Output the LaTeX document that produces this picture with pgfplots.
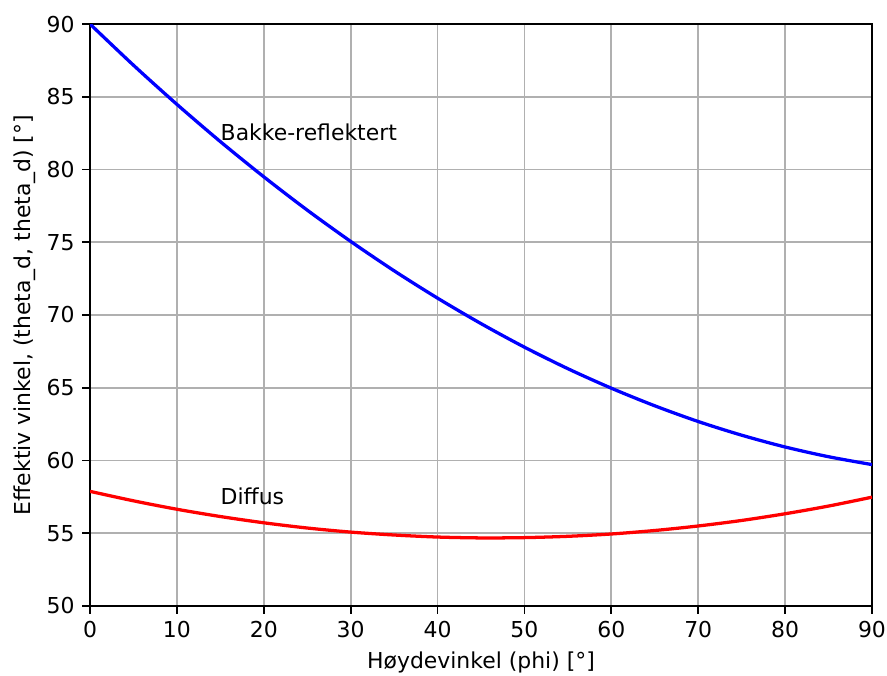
\documentclass[border=0pt]{standalone}
\usepackage{fontspec}
\setmainfont{DejaVu Sans}
\usepackage{pgfplots}
\pgfplotsset{compat=1.18}
\begin{document}
\fontsize{11.4pt}{13.7pt}\selectfont
\begin{tikzpicture}
\begin{axis}[
  name=ax,
  scale only axis,
  width=406.6pt, height=302.6pt,
  xmin=0, xmax=90, ymin=50, ymax=90,
  xtick={0,10,...,90}, ytick={50,55,...,90},
  grid=major,
  major grid style={color=black!31, line width=0.9pt},
  axis line style={line width=0.9pt},
  tick align=outside,
  xtick pos=bottom, ytick pos=left,
  major tick length=4pt,
  tick style={line width=0.9pt, color=black},
  /pgf/number format/assume math mode=true,
  ticklabel style={font=\fontsize{11.4pt}{13.7pt}\selectfont},
  xlabel={Høydevinkel (phi) [°]},
  ylabel={Effektiv vinkel, (theta\_d, theta\_d) [°]},
  label style={font=\fontsize{11.4pt}{13.7pt}\selectfont},
  xlabel style={yshift=0.5pt},
  ylabel style={yshift=-2pt},
]
\addplot[color=blue, line width=1.7pt, smooth] coordinates {
(0,90) (5,87.17) (10,84.48) (15,81.92) (20,79.50) (25,77.21) (30,75.06)
(35,73.04) (40,71.16) (45,69.41) (50,67.79) (55,66.31) (60,64.97)
(65,63.76) (70,62.68) (75,61.74) (80,60.93) (85,60.26) (90,59.72)};
\addplot[color=red, line width=1.7pt, smooth] coordinates {
(0,57.88) (5,57.23) (10,56.65) (15,56.15) (20,55.72) (25,55.36) (30,55.08)
(35,54.88) (40,54.74) (45,54.68) (50,54.70) (55,54.79) (60,54.95)
(65,55.19) (70,55.50) (75,55.88) (80,56.34) (85,56.87) (90,57.48)};
\node[anchor=base west, inner sep=0pt] at (axis cs:15,82) {Bakke-reflektert};
\node[anchor=base west, inner sep=0pt] at (axis cs:15,57) {Diffus};
\end{axis}
\pgfresetboundingbox
\path[use as bounding box] ([xshift=-46.8pt,yshift=-35.9pt]ax.south west) rectangle ([xshift=7.8pt,yshift=12.5pt]ax.north east);
\end{tikzpicture}
\end{document}
